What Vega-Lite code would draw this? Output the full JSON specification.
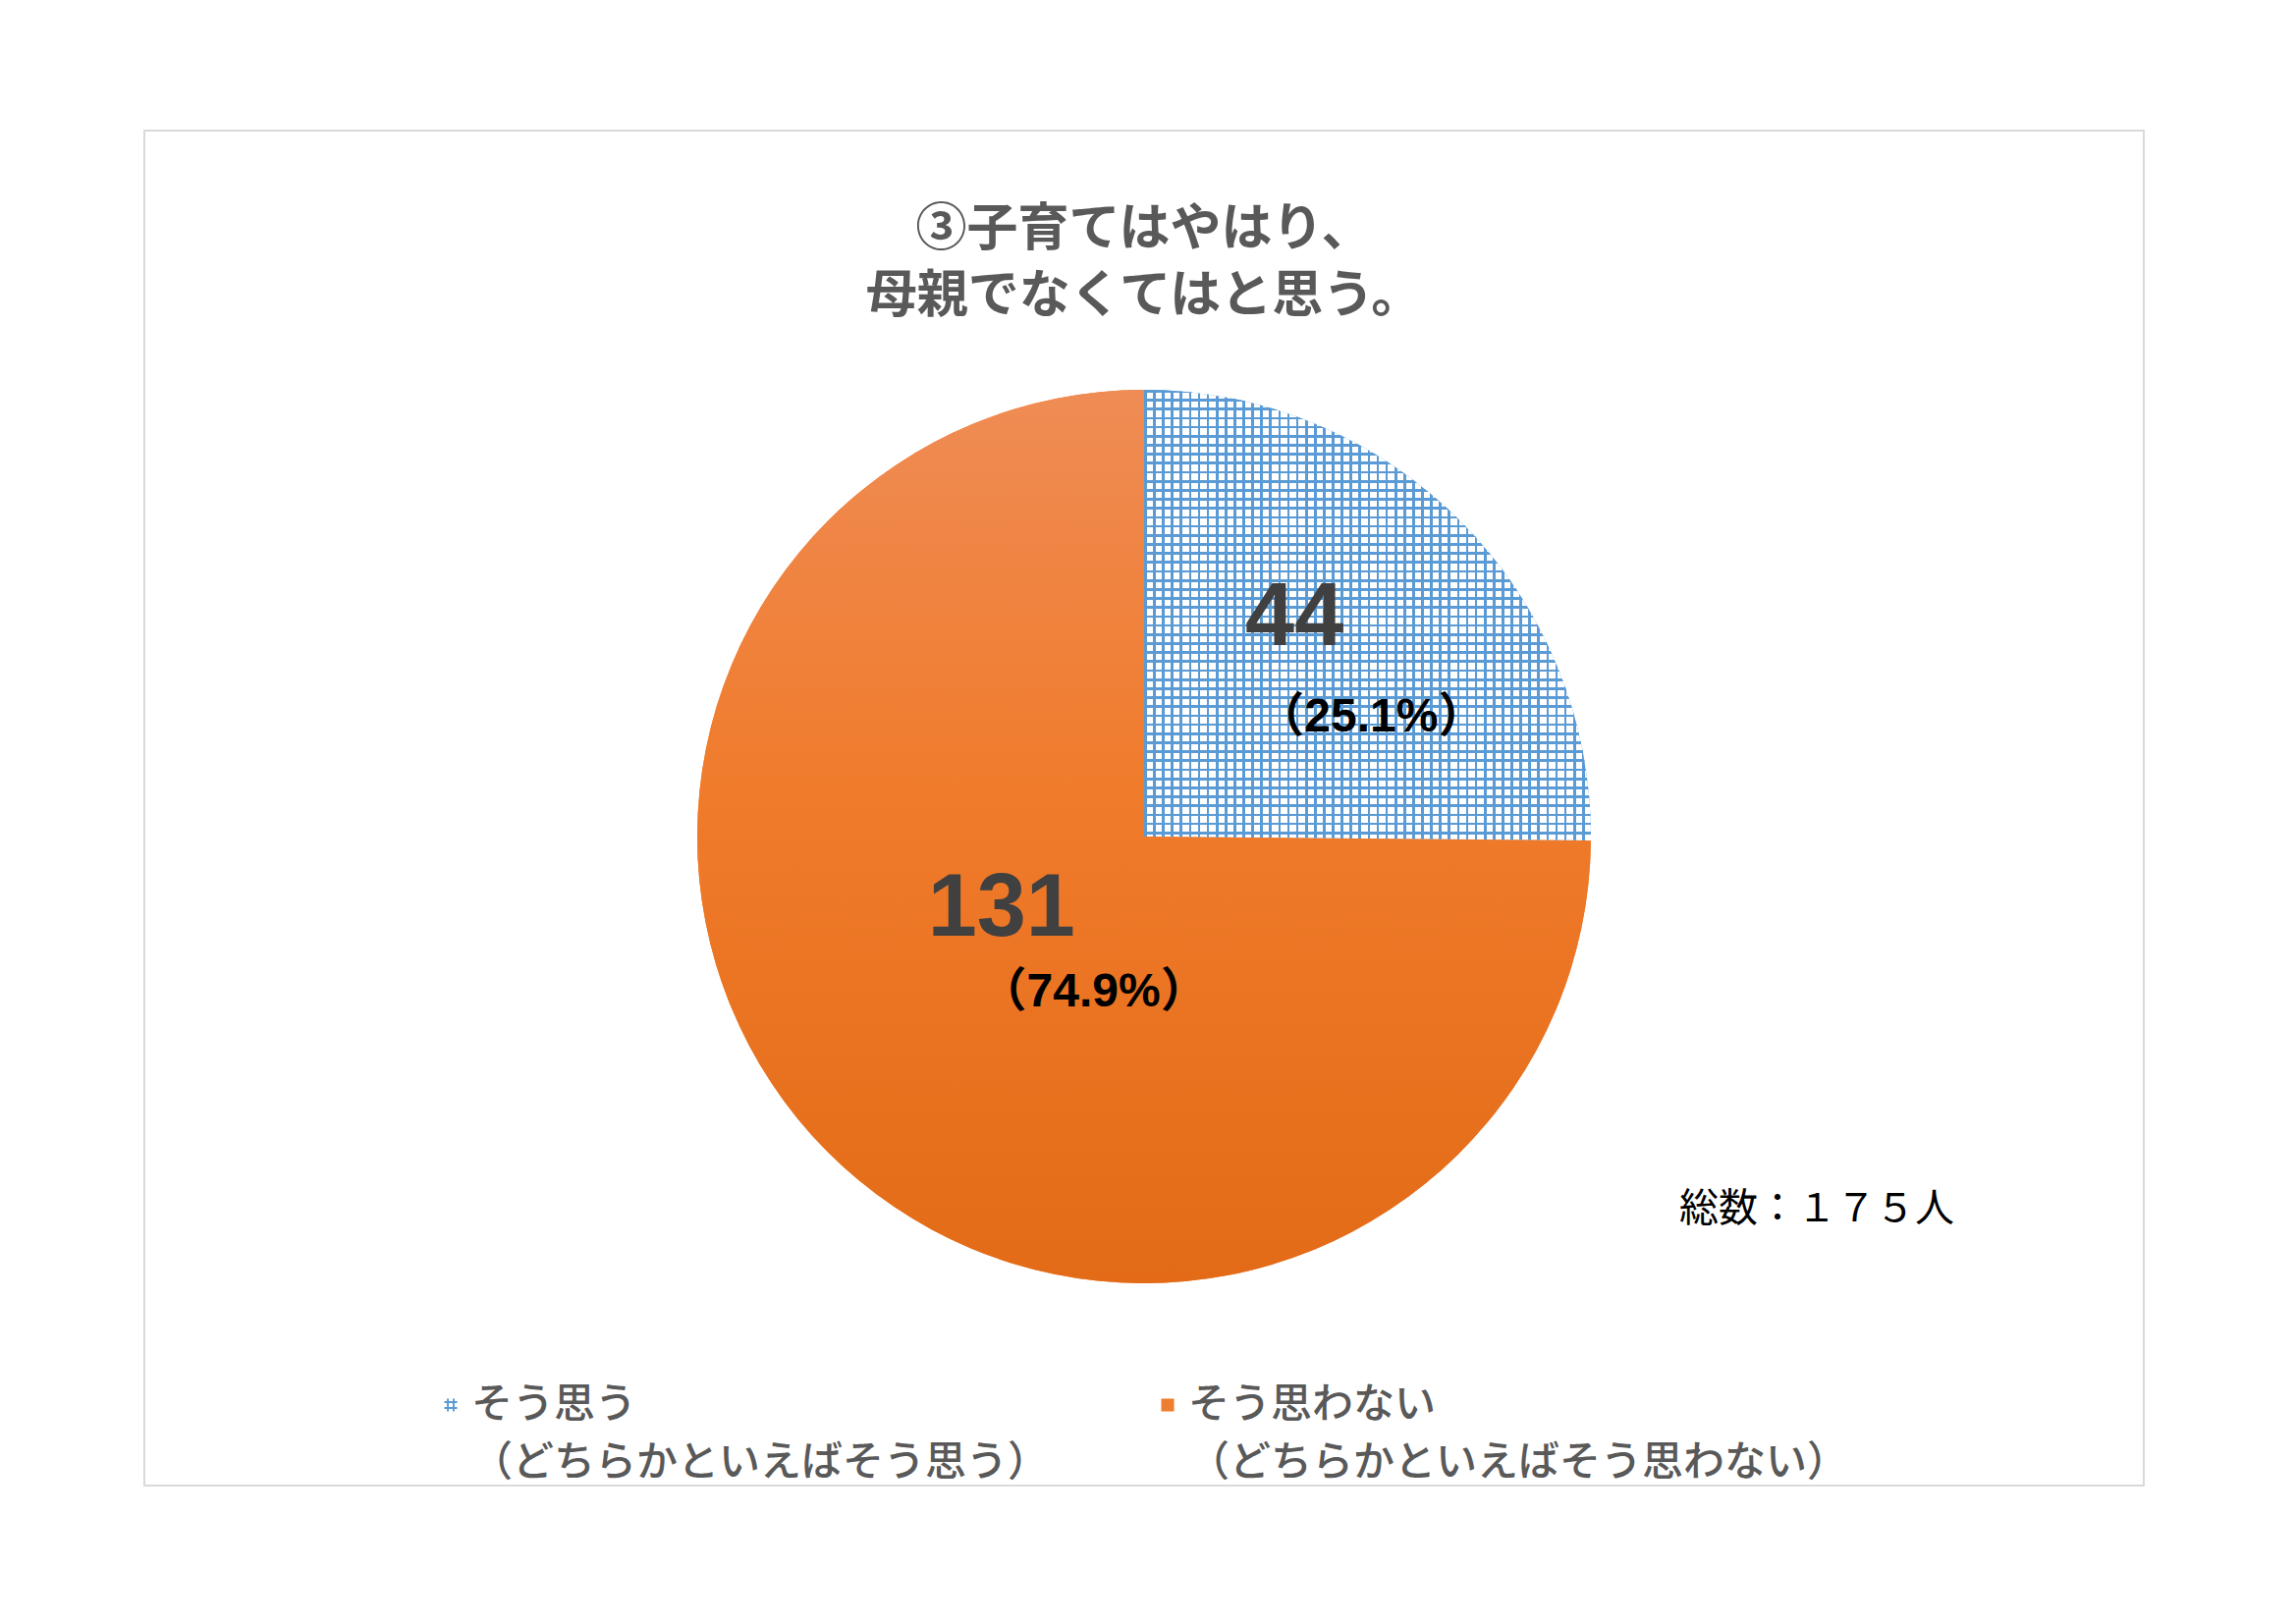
{
  "$schema": "https://vega.github.io/schema/vega-lite/v6.json",
  "width": 2036,
  "height": 1380,
  "autosize": {"type": "none"},
  "padding": {"left": 147, "top": 133, "right": 155, "bottom": 140},
  "background": "white",
  "view": {"stroke": "#d9d9d9", "strokeWidth": 2},
  "config": {
    "view": {"stroke": "#d9d9d9", "strokeWidth": 2},
    "style": {"cell": {"stroke": "#d9d9d9", "strokeWidth": 2}}
  },
  "title": {
    "text": ["③子育てはやはり、", "母親でなくてはと思う。"],
    "anchor": "middle",
    "frame": "group",
    "font": "Noto Sans CJK JP",
    "fontSize": 52,
    "fontWeight": "bold",
    "color": "#595959",
    "lineHeight": 68,
    "offset": -196
  },
  "data": {
    "values": [
      {"cat": "そう思う", "ord": 1, "value": 44, "pct": "（25.1%）"},
      {"cat": "そう思わない", "ord": 2, "value": 131, "pct": "（74.9%）"}
    ]
  },
  "layer": [
    {
      "mark": {"type": "arc", "radius": 455, "yOffset": 29},
      "encoding": {
        "theta": {"field": "value", "type": "quantitative", "stack": true},
        "order": {"field": "ord", "type": "quantitative"},
        "color": {
          "field": "cat", "type": "nominal",
          "scale": {"domain": ["そう思う", "そう思わない"], "range": ["#5b9bd5", "#ed7d31"]},
          "legend": {
            "title": null,
            "orient": "none",
            "legendX": 291,
            "legendY": 1277,
            "direction": "horizontal",
            "columns": 2,
            "columnPadding": 99,
            "padding": 0,
            "symbolSize": 170,
            "symbolStrokeWidth": 0,
            "labelOffset": 0,
            "labelFont": "Noto Sans CJK JP",
            "labelFontSize": 42,
            "labelFontWeight": 500,
            "labelColor": "#595959",
            "labelLimit": 2000,
            "labelExpr": "[datum.label, datum.label === 'そう思う' ? '（どちらかといえばそう思う）' : '（どちらかといえばそう思わない）']",
            "encode": {
              "symbols": {"update": {"shape": {"signal": "datum.value === 'そう思う' ? 'M-0.6,-1H-0.3V1H-0.6ZM0.3,-1H0.6V1H0.3ZM-1,-0.6H1V-0.3H-1ZM-1,0.3H1V0.6H-1Z' : 'square'"}}},
              "labels": {"update": {"lineHeight": {"value": 59}, "dy": {"value": 0}}}
            }
          }
        }
      }
    },
    {
      "mark": {"type": "arc", "radius": 455, "yOffset": 29},
      "encoding": {
        "theta": {"field": "value", "type": "quantitative", "stack": true},
        "order": {"field": "ord", "type": "quantitative"},
        "fill": {
          "condition": {
            "test": "datum.cat === 'そう思う'",
            "value": {
              "gradient": "linear", "x1": 0, "y1": 0, "x2": 0, "y2": 1,
              "stops": [
                {"offset": 0, "color": "#5b9bd5"}, {"offset": 0.006, "color": "#5b9bd5"}, {"offset": 0.006, "color": "#fff"}, {"offset": 0.02, "color": "#fff"},
                {"offset": 0.02, "color": "#5b9bd5"}, {"offset": 0.026, "color": "#5b9bd5"}, {"offset": 0.026, "color": "#fff"}, {"offset": 0.04, "color": "#fff"},
                {"offset": 0.04, "color": "#5b9bd5"}, {"offset": 0.046, "color": "#5b9bd5"}, {"offset": 0.046, "color": "#fff"}, {"offset": 0.06, "color": "#fff"},
                {"offset": 0.06, "color": "#5b9bd5"}, {"offset": 0.066, "color": "#5b9bd5"}, {"offset": 0.066, "color": "#fff"}, {"offset": 0.08, "color": "#fff"},
                {"offset": 0.08, "color": "#5b9bd5"}, {"offset": 0.086, "color": "#5b9bd5"}, {"offset": 0.086, "color": "#fff"}, {"offset": 0.1, "color": "#fff"},
                {"offset": 0.1, "color": "#5b9bd5"}, {"offset": 0.106, "color": "#5b9bd5"}, {"offset": 0.106, "color": "#fff"}, {"offset": 0.12, "color": "#fff"},
                {"offset": 0.12, "color": "#5b9bd5"}, {"offset": 0.126, "color": "#5b9bd5"}, {"offset": 0.126, "color": "#fff"}, {"offset": 0.14, "color": "#fff"},
                {"offset": 0.14, "color": "#5b9bd5"}, {"offset": 0.146, "color": "#5b9bd5"}, {"offset": 0.146, "color": "#fff"}, {"offset": 0.16, "color": "#fff"},
                {"offset": 0.16, "color": "#5b9bd5"}, {"offset": 0.166, "color": "#5b9bd5"}, {"offset": 0.166, "color": "#fff"}, {"offset": 0.18, "color": "#fff"},
                {"offset": 0.18, "color": "#5b9bd5"}, {"offset": 0.186, "color": "#5b9bd5"}, {"offset": 0.186, "color": "#fff"}, {"offset": 0.2, "color": "#fff"},
                {"offset": 0.2, "color": "#5b9bd5"}, {"offset": 0.206, "color": "#5b9bd5"}, {"offset": 0.206, "color": "#fff"}, {"offset": 0.22, "color": "#fff"},
                {"offset": 0.22, "color": "#5b9bd5"}, {"offset": 0.226, "color": "#5b9bd5"}, {"offset": 0.226, "color": "#fff"}, {"offset": 0.24, "color": "#fff"},
                {"offset": 0.24, "color": "#5b9bd5"}, {"offset": 0.246, "color": "#5b9bd5"}, {"offset": 0.246, "color": "#fff"}, {"offset": 0.26, "color": "#fff"},
                {"offset": 0.26, "color": "#5b9bd5"}, {"offset": 0.266, "color": "#5b9bd5"}, {"offset": 0.266, "color": "#fff"}, {"offset": 0.28, "color": "#fff"},
                {"offset": 0.28, "color": "#5b9bd5"}, {"offset": 0.286, "color": "#5b9bd5"}, {"offset": 0.286, "color": "#fff"}, {"offset": 0.3, "color": "#fff"},
                {"offset": 0.3, "color": "#5b9bd5"}, {"offset": 0.306, "color": "#5b9bd5"}, {"offset": 0.306, "color": "#fff"}, {"offset": 0.32, "color": "#fff"},
                {"offset": 0.32, "color": "#5b9bd5"}, {"offset": 0.326, "color": "#5b9bd5"}, {"offset": 0.326, "color": "#fff"}, {"offset": 0.34, "color": "#fff"},
                {"offset": 0.34, "color": "#5b9bd5"}, {"offset": 0.346, "color": "#5b9bd5"}, {"offset": 0.346, "color": "#fff"}, {"offset": 0.36, "color": "#fff"},
                {"offset": 0.36, "color": "#5b9bd5"}, {"offset": 0.366, "color": "#5b9bd5"}, {"offset": 0.366, "color": "#fff"}, {"offset": 0.38, "color": "#fff"},
                {"offset": 0.38, "color": "#5b9bd5"}, {"offset": 0.386, "color": "#5b9bd5"}, {"offset": 0.386, "color": "#fff"}, {"offset": 0.4, "color": "#fff"},
                {"offset": 0.4, "color": "#5b9bd5"}, {"offset": 0.406, "color": "#5b9bd5"}, {"offset": 0.406, "color": "#fff"}, {"offset": 0.42, "color": "#fff"},
                {"offset": 0.42, "color": "#5b9bd5"}, {"offset": 0.426, "color": "#5b9bd5"}, {"offset": 0.426, "color": "#fff"}, {"offset": 0.44, "color": "#fff"},
                {"offset": 0.44, "color": "#5b9bd5"}, {"offset": 0.446, "color": "#5b9bd5"}, {"offset": 0.446, "color": "#fff"}, {"offset": 0.46, "color": "#fff"},
                {"offset": 0.46, "color": "#5b9bd5"}, {"offset": 0.466, "color": "#5b9bd5"}, {"offset": 0.466, "color": "#fff"}, {"offset": 0.48, "color": "#fff"},
                {"offset": 0.48, "color": "#5b9bd5"}, {"offset": 0.486, "color": "#5b9bd5"}, {"offset": 0.486, "color": "#fff"}, {"offset": 0.5, "color": "#fff"},
                {"offset": 0.5, "color": "#5b9bd5"}, {"offset": 0.506, "color": "#5b9bd5"}, {"offset": 0.506, "color": "#fff"}, {"offset": 0.52, "color": "#fff"},
                {"offset": 0.52, "color": "#5b9bd5"}, {"offset": 0.526, "color": "#5b9bd5"}, {"offset": 0.526, "color": "#fff"}, {"offset": 0.54, "color": "#fff"},
                {"offset": 0.54, "color": "#5b9bd5"}, {"offset": 0.546, "color": "#5b9bd5"}, {"offset": 0.546, "color": "#fff"}, {"offset": 0.56, "color": "#fff"},
                {"offset": 0.56, "color": "#5b9bd5"}, {"offset": 0.566, "color": "#5b9bd5"}, {"offset": 0.566, "color": "#fff"}, {"offset": 0.58, "color": "#fff"},
                {"offset": 0.58, "color": "#5b9bd5"}, {"offset": 0.586, "color": "#5b9bd5"}, {"offset": 0.586, "color": "#fff"}, {"offset": 0.6, "color": "#fff"},
                {"offset": 0.6, "color": "#5b9bd5"}, {"offset": 0.606, "color": "#5b9bd5"}, {"offset": 0.606, "color": "#fff"}, {"offset": 0.62, "color": "#fff"},
                {"offset": 0.62, "color": "#5b9bd5"}, {"offset": 0.626, "color": "#5b9bd5"}, {"offset": 0.626, "color": "#fff"}, {"offset": 0.64, "color": "#fff"},
                {"offset": 0.64, "color": "#5b9bd5"}, {"offset": 0.646, "color": "#5b9bd5"}, {"offset": 0.646, "color": "#fff"}, {"offset": 0.66, "color": "#fff"},
                {"offset": 0.66, "color": "#5b9bd5"}, {"offset": 0.666, "color": "#5b9bd5"}, {"offset": 0.666, "color": "#fff"}, {"offset": 0.68, "color": "#fff"},
                {"offset": 0.68, "color": "#5b9bd5"}, {"offset": 0.686, "color": "#5b9bd5"}, {"offset": 0.686, "color": "#fff"}, {"offset": 0.7, "color": "#fff"},
                {"offset": 0.7, "color": "#5b9bd5"}, {"offset": 0.706, "color": "#5b9bd5"}, {"offset": 0.706, "color": "#fff"}, {"offset": 0.72, "color": "#fff"},
                {"offset": 0.72, "color": "#5b9bd5"}, {"offset": 0.726, "color": "#5b9bd5"}, {"offset": 0.726, "color": "#fff"}, {"offset": 0.74, "color": "#fff"},
                {"offset": 0.74, "color": "#5b9bd5"}, {"offset": 0.746, "color": "#5b9bd5"}, {"offset": 0.746, "color": "#fff"}, {"offset": 0.76, "color": "#fff"},
                {"offset": 0.76, "color": "#5b9bd5"}, {"offset": 0.766, "color": "#5b9bd5"}, {"offset": 0.766, "color": "#fff"}, {"offset": 0.78, "color": "#fff"},
                {"offset": 0.78, "color": "#5b9bd5"}, {"offset": 0.786, "color": "#5b9bd5"}, {"offset": 0.786, "color": "#fff"}, {"offset": 0.8, "color": "#fff"},
                {"offset": 0.8, "color": "#5b9bd5"}, {"offset": 0.806, "color": "#5b9bd5"}, {"offset": 0.806, "color": "#fff"}, {"offset": 0.82, "color": "#fff"},
                {"offset": 0.82, "color": "#5b9bd5"}, {"offset": 0.826, "color": "#5b9bd5"}, {"offset": 0.826, "color": "#fff"}, {"offset": 0.84, "color": "#fff"},
                {"offset": 0.84, "color": "#5b9bd5"}, {"offset": 0.846, "color": "#5b9bd5"}, {"offset": 0.846, "color": "#fff"}, {"offset": 0.86, "color": "#fff"},
                {"offset": 0.86, "color": "#5b9bd5"}, {"offset": 0.866, "color": "#5b9bd5"}, {"offset": 0.866, "color": "#fff"}, {"offset": 0.88, "color": "#fff"},
                {"offset": 0.88, "color": "#5b9bd5"}, {"offset": 0.886, "color": "#5b9bd5"}, {"offset": 0.886, "color": "#fff"}, {"offset": 0.9, "color": "#fff"},
                {"offset": 0.9, "color": "#5b9bd5"}, {"offset": 0.906, "color": "#5b9bd5"}, {"offset": 0.906, "color": "#fff"}, {"offset": 0.92, "color": "#fff"},
                {"offset": 0.92, "color": "#5b9bd5"}, {"offset": 0.926, "color": "#5b9bd5"}, {"offset": 0.926, "color": "#fff"}, {"offset": 0.94, "color": "#fff"},
                {"offset": 0.94, "color": "#5b9bd5"}, {"offset": 0.946, "color": "#5b9bd5"}, {"offset": 0.946, "color": "#fff"}, {"offset": 0.96, "color": "#fff"},
                {"offset": 0.96, "color": "#5b9bd5"}, {"offset": 0.966, "color": "#5b9bd5"}, {"offset": 0.966, "color": "#fff"}, {"offset": 0.98, "color": "#fff"},
                {"offset": 0.98, "color": "#5b9bd5"}, {"offset": 0.986, "color": "#5b9bd5"}, {"offset": 0.986, "color": "#fff"}, {"offset": 1, "color": "#fff"}
              ]
            }
          },
          "value": {
            "gradient": "linear", "x1": 0, "y1": 0, "x2": 0, "y2": 1,
            "stops": [
              {"offset": 0, "color": "#ef8c55"},
              {"offset": 0.45, "color": "#f07b2b"},
              {"offset": 1, "color": "#e36b17"}
            ]
          }
        }
      }
    },
    {
      "mark": {"type": "arc", "radius": 455, "yOffset": 29},
      "encoding": {
        "theta": {"field": "value", "type": "quantitative", "stack": true},
        "order": {"field": "ord", "type": "quantitative"},
        "fill": {
          "condition": {
            "test": "datum.cat === 'そう思う'",
            "value": {
              "gradient": "linear", "x1": 0, "y1": 0, "x2": 1, "y2": 0,
              "stops": [
                {"offset": 0, "color": "#5b9bd5"}, {"offset": 0.006, "color": "#5b9bd5"}, {"offset": 0.006, "color": "transparent"}, {"offset": 0.02, "color": "transparent"},
                {"offset": 0.02, "color": "#5b9bd5"}, {"offset": 0.026, "color": "#5b9bd5"}, {"offset": 0.026, "color": "transparent"}, {"offset": 0.04, "color": "transparent"},
                {"offset": 0.04, "color": "#5b9bd5"}, {"offset": 0.046, "color": "#5b9bd5"}, {"offset": 0.046, "color": "transparent"}, {"offset": 0.06, "color": "transparent"},
                {"offset": 0.06, "color": "#5b9bd5"}, {"offset": 0.066, "color": "#5b9bd5"}, {"offset": 0.066, "color": "transparent"}, {"offset": 0.08, "color": "transparent"},
                {"offset": 0.08, "color": "#5b9bd5"}, {"offset": 0.086, "color": "#5b9bd5"}, {"offset": 0.086, "color": "transparent"}, {"offset": 0.1, "color": "transparent"},
                {"offset": 0.1, "color": "#5b9bd5"}, {"offset": 0.106, "color": "#5b9bd5"}, {"offset": 0.106, "color": "transparent"}, {"offset": 0.12, "color": "transparent"},
                {"offset": 0.12, "color": "#5b9bd5"}, {"offset": 0.126, "color": "#5b9bd5"}, {"offset": 0.126, "color": "transparent"}, {"offset": 0.14, "color": "transparent"},
                {"offset": 0.14, "color": "#5b9bd5"}, {"offset": 0.146, "color": "#5b9bd5"}, {"offset": 0.146, "color": "transparent"}, {"offset": 0.16, "color": "transparent"},
                {"offset": 0.16, "color": "#5b9bd5"}, {"offset": 0.166, "color": "#5b9bd5"}, {"offset": 0.166, "color": "transparent"}, {"offset": 0.18, "color": "transparent"},
                {"offset": 0.18, "color": "#5b9bd5"}, {"offset": 0.186, "color": "#5b9bd5"}, {"offset": 0.186, "color": "transparent"}, {"offset": 0.2, "color": "transparent"},
                {"offset": 0.2, "color": "#5b9bd5"}, {"offset": 0.206, "color": "#5b9bd5"}, {"offset": 0.206, "color": "transparent"}, {"offset": 0.22, "color": "transparent"},
                {"offset": 0.22, "color": "#5b9bd5"}, {"offset": 0.226, "color": "#5b9bd5"}, {"offset": 0.226, "color": "transparent"}, {"offset": 0.24, "color": "transparent"},
                {"offset": 0.24, "color": "#5b9bd5"}, {"offset": 0.246, "color": "#5b9bd5"}, {"offset": 0.246, "color": "transparent"}, {"offset": 0.26, "color": "transparent"},
                {"offset": 0.26, "color": "#5b9bd5"}, {"offset": 0.266, "color": "#5b9bd5"}, {"offset": 0.266, "color": "transparent"}, {"offset": 0.28, "color": "transparent"},
                {"offset": 0.28, "color": "#5b9bd5"}, {"offset": 0.286, "color": "#5b9bd5"}, {"offset": 0.286, "color": "transparent"}, {"offset": 0.3, "color": "transparent"},
                {"offset": 0.3, "color": "#5b9bd5"}, {"offset": 0.306, "color": "#5b9bd5"}, {"offset": 0.306, "color": "transparent"}, {"offset": 0.32, "color": "transparent"},
                {"offset": 0.32, "color": "#5b9bd5"}, {"offset": 0.326, "color": "#5b9bd5"}, {"offset": 0.326, "color": "transparent"}, {"offset": 0.34, "color": "transparent"},
                {"offset": 0.34, "color": "#5b9bd5"}, {"offset": 0.346, "color": "#5b9bd5"}, {"offset": 0.346, "color": "transparent"}, {"offset": 0.36, "color": "transparent"},
                {"offset": 0.36, "color": "#5b9bd5"}, {"offset": 0.366, "color": "#5b9bd5"}, {"offset": 0.366, "color": "transparent"}, {"offset": 0.38, "color": "transparent"},
                {"offset": 0.38, "color": "#5b9bd5"}, {"offset": 0.386, "color": "#5b9bd5"}, {"offset": 0.386, "color": "transparent"}, {"offset": 0.4, "color": "transparent"},
                {"offset": 0.4, "color": "#5b9bd5"}, {"offset": 0.406, "color": "#5b9bd5"}, {"offset": 0.406, "color": "transparent"}, {"offset": 0.42, "color": "transparent"},
                {"offset": 0.42, "color": "#5b9bd5"}, {"offset": 0.426, "color": "#5b9bd5"}, {"offset": 0.426, "color": "transparent"}, {"offset": 0.44, "color": "transparent"},
                {"offset": 0.44, "color": "#5b9bd5"}, {"offset": 0.446, "color": "#5b9bd5"}, {"offset": 0.446, "color": "transparent"}, {"offset": 0.46, "color": "transparent"},
                {"offset": 0.46, "color": "#5b9bd5"}, {"offset": 0.466, "color": "#5b9bd5"}, {"offset": 0.466, "color": "transparent"}, {"offset": 0.48, "color": "transparent"},
                {"offset": 0.48, "color": "#5b9bd5"}, {"offset": 0.486, "color": "#5b9bd5"}, {"offset": 0.486, "color": "transparent"}, {"offset": 0.5, "color": "transparent"},
                {"offset": 0.5, "color": "#5b9bd5"}, {"offset": 0.506, "color": "#5b9bd5"}, {"offset": 0.506, "color": "transparent"}, {"offset": 0.52, "color": "transparent"},
                {"offset": 0.52, "color": "#5b9bd5"}, {"offset": 0.526, "color": "#5b9bd5"}, {"offset": 0.526, "color": "transparent"}, {"offset": 0.54, "color": "transparent"},
                {"offset": 0.54, "color": "#5b9bd5"}, {"offset": 0.546, "color": "#5b9bd5"}, {"offset": 0.546, "color": "transparent"}, {"offset": 0.56, "color": "transparent"},
                {"offset": 0.56, "color": "#5b9bd5"}, {"offset": 0.566, "color": "#5b9bd5"}, {"offset": 0.566, "color": "transparent"}, {"offset": 0.58, "color": "transparent"},
                {"offset": 0.58, "color": "#5b9bd5"}, {"offset": 0.586, "color": "#5b9bd5"}, {"offset": 0.586, "color": "transparent"}, {"offset": 0.6, "color": "transparent"},
                {"offset": 0.6, "color": "#5b9bd5"}, {"offset": 0.606, "color": "#5b9bd5"}, {"offset": 0.606, "color": "transparent"}, {"offset": 0.62, "color": "transparent"},
                {"offset": 0.62, "color": "#5b9bd5"}, {"offset": 0.626, "color": "#5b9bd5"}, {"offset": 0.626, "color": "transparent"}, {"offset": 0.64, "color": "transparent"},
                {"offset": 0.64, "color": "#5b9bd5"}, {"offset": 0.646, "color": "#5b9bd5"}, {"offset": 0.646, "color": "transparent"}, {"offset": 0.66, "color": "transparent"},
                {"offset": 0.66, "color": "#5b9bd5"}, {"offset": 0.666, "color": "#5b9bd5"}, {"offset": 0.666, "color": "transparent"}, {"offset": 0.68, "color": "transparent"},
                {"offset": 0.68, "color": "#5b9bd5"}, {"offset": 0.686, "color": "#5b9bd5"}, {"offset": 0.686, "color": "transparent"}, {"offset": 0.7, "color": "transparent"},
                {"offset": 0.7, "color": "#5b9bd5"}, {"offset": 0.706, "color": "#5b9bd5"}, {"offset": 0.706, "color": "transparent"}, {"offset": 0.72, "color": "transparent"},
                {"offset": 0.72, "color": "#5b9bd5"}, {"offset": 0.726, "color": "#5b9bd5"}, {"offset": 0.726, "color": "transparent"}, {"offset": 0.74, "color": "transparent"},
                {"offset": 0.74, "color": "#5b9bd5"}, {"offset": 0.746, "color": "#5b9bd5"}, {"offset": 0.746, "color": "transparent"}, {"offset": 0.76, "color": "transparent"},
                {"offset": 0.76, "color": "#5b9bd5"}, {"offset": 0.766, "color": "#5b9bd5"}, {"offset": 0.766, "color": "transparent"}, {"offset": 0.78, "color": "transparent"},
                {"offset": 0.78, "color": "#5b9bd5"}, {"offset": 0.786, "color": "#5b9bd5"}, {"offset": 0.786, "color": "transparent"}, {"offset": 0.8, "color": "transparent"},
                {"offset": 0.8, "color": "#5b9bd5"}, {"offset": 0.806, "color": "#5b9bd5"}, {"offset": 0.806, "color": "transparent"}, {"offset": 0.82, "color": "transparent"},
                {"offset": 0.82, "color": "#5b9bd5"}, {"offset": 0.826, "color": "#5b9bd5"}, {"offset": 0.826, "color": "transparent"}, {"offset": 0.84, "color": "transparent"},
                {"offset": 0.84, "color": "#5b9bd5"}, {"offset": 0.846, "color": "#5b9bd5"}, {"offset": 0.846, "color": "transparent"}, {"offset": 0.86, "color": "transparent"},
                {"offset": 0.86, "color": "#5b9bd5"}, {"offset": 0.866, "color": "#5b9bd5"}, {"offset": 0.866, "color": "transparent"}, {"offset": 0.88, "color": "transparent"},
                {"offset": 0.88, "color": "#5b9bd5"}, {"offset": 0.886, "color": "#5b9bd5"}, {"offset": 0.886, "color": "transparent"}, {"offset": 0.9, "color": "transparent"},
                {"offset": 0.9, "color": "#5b9bd5"}, {"offset": 0.906, "color": "#5b9bd5"}, {"offset": 0.906, "color": "transparent"}, {"offset": 0.92, "color": "transparent"},
                {"offset": 0.92, "color": "#5b9bd5"}, {"offset": 0.926, "color": "#5b9bd5"}, {"offset": 0.926, "color": "transparent"}, {"offset": 0.94, "color": "transparent"},
                {"offset": 0.94, "color": "#5b9bd5"}, {"offset": 0.946, "color": "#5b9bd5"}, {"offset": 0.946, "color": "transparent"}, {"offset": 0.96, "color": "transparent"},
                {"offset": 0.96, "color": "#5b9bd5"}, {"offset": 0.966, "color": "#5b9bd5"}, {"offset": 0.966, "color": "transparent"}, {"offset": 0.98, "color": "transparent"},
                {"offset": 0.98, "color": "#5b9bd5"}, {"offset": 0.986, "color": "#5b9bd5"}, {"offset": 0.986, "color": "transparent"}, {"offset": 1, "color": "transparent"}
              ]
            }
          },
          "value": "transparent"
        }
      }
    },
    {
      "mark": {
        "type": "text", "radius": 210, "dx": 4, "dy": -45,
        "font": "Liberation Sans",
        "fontSize": 90, "fontWeight": "bold", "color": "#404040",
        "align": "center", "baseline": "middle"
      },
      "encoding": {
        "theta": {"field": "value", "type": "quantitative", "stack": true},
        "order": {"field": "ord", "type": "quantitative"},
        "text": {"field": "value", "type": "quantitative"}
      }
    },
    {
      "mark": {
        "type": "text", "radius": 199, "dx": 90, "dy": 48,
        "font": "Liberation Sans, Noto Sans CJK JP, sans-serif",
        "fontSize": 48, "fontWeight": "bold", "color": "#000000",
        "align": "center", "baseline": "middle"
      },
      "encoding": {
        "theta": {"field": "value", "type": "quantitative", "stack": true},
        "order": {"field": "ord", "type": "quantitative"},
        "text": {"field": "pct", "type": "nominal"}
      }
    },
    {
      "data": {"values": [{"note": "総数：１７５人"}]},
      "mark": {
        "type": "text", "x": 1703, "y": 1099,
        "font": "Noto Sans CJK JP", "fontSize": 40, "color": "#000000",
        "align": "center", "baseline": "middle"
      },
      "encoding": {
        "text": {"field": "note", "type": "nominal"}
      }
    }
  ]
}
